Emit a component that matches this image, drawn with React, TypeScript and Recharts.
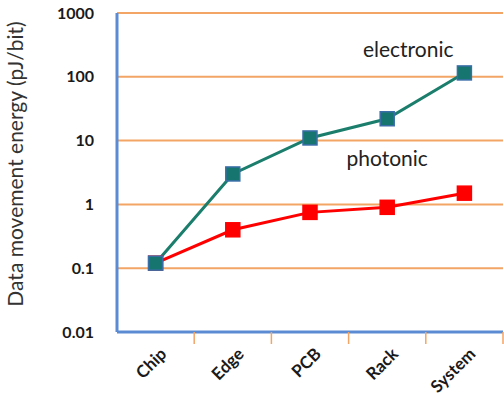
import { LineChart, Line, XAxis, YAxis, CartesianGrid, ReferenceDot } from "recharts"

const categories = ["Chip", "Edge", "PCB", "Rack", "System"]
const electronic = [0.12, 3, 11, 22, 115]
const photonic = [0.12, 0.4, 0.75, 0.9, 1.5]
const yTicks = [0.01, 0.1, 1, 10, 100, 1000]

const data = categories.map((name, i) => ({
  name,
  electronic: electronic[i],
  photonic: photonic[i],
}))

const FONT = "Lato, 'Open Sans', sans-serif"
const AXIS_BLUE = "#5b8bd3"
const GRID_ORANGE = "#f3a566"

// plot area geometry (used only for the between-category tick marks)
const CHART_W = 504
const MARGIN_LEFT = 117
const MARGIN_RIGHT = 1
const BAND = (CHART_W - MARGIN_LEFT - MARGIN_RIGHT) / categories.length

const SquareDot = ({ cx, cy, fill, stroke }: any) => {
  if (cx == null || cy == null) return null
  return <rect x={cx - 7} y={cy - 7} width={14} height={14} fill={fill} stroke={stroke} strokeWidth={1.5} />
}

const CategoryTick = ({ x, y, payload }: any) => (
  <g>
    <line x1={x + BAND / 2} y1={y - 8} x2={x + BAND / 2} y2={y + 4} stroke={GRID_ORANGE} strokeWidth={1.5} />
    <text
      x={x + 9}
      y={y + 12}
      transform={`rotate(-45 ${x + 9} ${y + 12})`}
      textAnchor="end"
      dominantBaseline="middle"
      fontFamily={FONT}
      fontWeight={700}
      fontSize={17}
      fill="#1a1a1a"
    >
      {payload.value}
    </text>
  </g>
)

export default function App() {
  return (
    <div style={{ position: "absolute", left: 0, top: 0, width: CHART_W, height: 400, background: "#fff" }}>
      <LineChart width={CHART_W} height={400} data={data} margin={{ top: 13, right: MARGIN_RIGHT, left: 0, bottom: 0 }}>
        <CartesianGrid vertical={false} stroke={GRID_ORANGE} strokeWidth={2} />
        <XAxis
          dataKey="name"
          scale="band"
          height={68}
          axisLine={{ stroke: AXIS_BLUE, strokeWidth: 3 }}
          tickLine={false}
          tick={<CategoryTick />}
          interval={0}
        />
        <YAxis
          scale="log"
          domain={[0.01, 1000]}
          ticks={yTicks}
          allowDataOverflow
          width={MARGIN_LEFT}
          axisLine={{ stroke: AXIS_BLUE, strokeWidth: 3 }}
          tickLine={false}
          tickSize={0}
          tickMargin={23}
          tickFormatter={(v) => String(v)}
          tick={{ fontFamily: FONT, fontWeight: 700, fontSize: 16, fill: "#1a1a1a" }}
          label={{
            content: () => (
              <text
                x={18}
                y={164}
                transform="rotate(-90 18 164)"
                textAnchor="middle"
                dominantBaseline="middle"
                fontFamily={FONT}
                fontSize={21}
                fill="#333"
              >
                Data movement energy (pJ/bit)
              </text>
            ),
          }}
        />
        <Line
          dataKey="photonic"
          stroke="#ff0000"
          strokeWidth={3}
          dot={<SquareDot fill="#ff0000" stroke="#ff0000" />}
          activeDot={false}
          isAnimationActive={false}
        />
        <Line
          dataKey="electronic"
          stroke="#1b7e6c"
          strokeWidth={3}
          dot={<SquareDot fill="#17756f" stroke="#3a6ea8" />}
          activeDot={false}
          isAnimationActive={false}
        />
        <ReferenceDot
          x="Rack"
          y={267}
          r={0}
          stroke="none"
          label={{ value: "electronic", position: "center", dx: 21, fontFamily: FONT, fontSize: 21, fill: "#222" }}
        />
        <ReferenceDot
          x="Rack"
          y={5.3}
          r={0}
          stroke="none"
          label={{ value: "photonic", position: "center", dx: 0, fontFamily: FONT, fontSize: 21, fill: "#222" }}
        />
      </LineChart>
    </div>
  )
}
